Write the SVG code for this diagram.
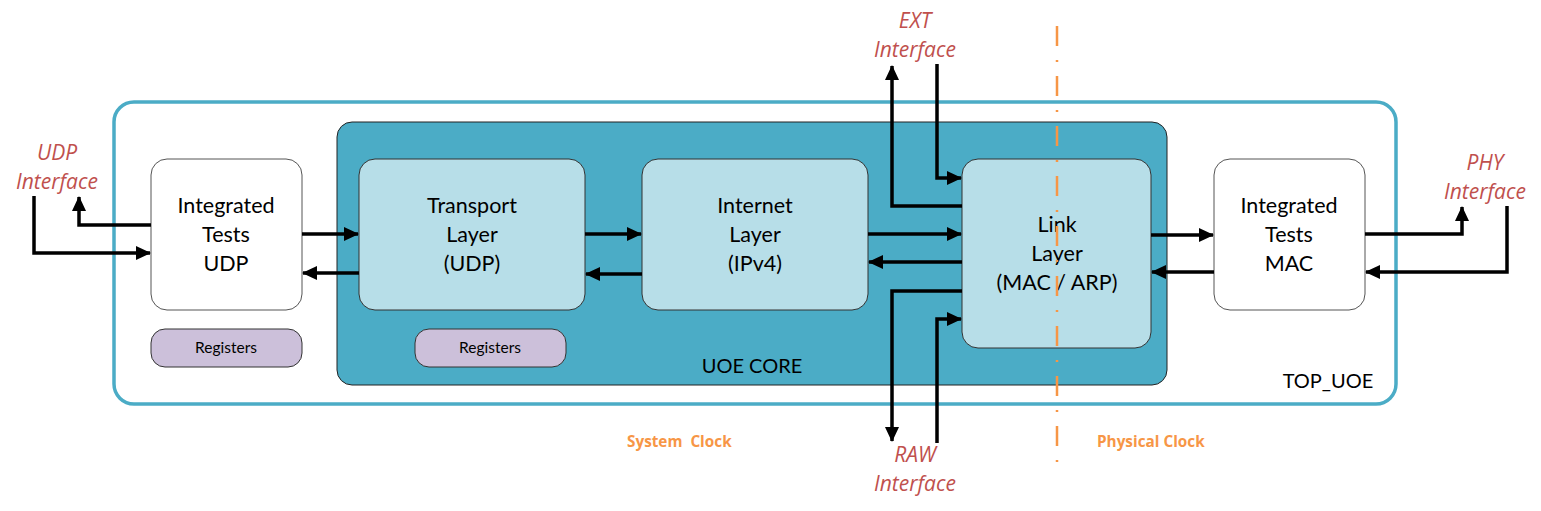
<svg xmlns="http://www.w3.org/2000/svg" width="1541" height="511" viewBox="0 0 1541 511">
<style>
.lbl{font-family:Lato,"Liberation Sans",sans-serif;font-size:21.5px;fill:#000;text-anchor:middle}
.big{font-family:Lato,"Liberation Sans",sans-serif;font-size:20px;fill:#000;text-anchor:middle}
.iface{font-family:"Open Sans","Liberation Sans",sans-serif;font-style:italic;font-size:21px;fill:#C0504D;text-anchor:middle}
.clk{font-family:"Open Sans","Liberation Sans",sans-serif;font-weight:bold;font-size:15.3px;fill:#F79646;white-space:pre}
.reg{font-family:Lato,"Liberation Sans",sans-serif;font-size:15.5px;fill:#000;text-anchor:middle}
.layer{fill:#B7DEE8;stroke:#333;stroke-width:1}
.test{fill:#fff;stroke:#555;stroke-width:1}
.regbox{fill:#CCC0DA;stroke:#333;stroke-width:1}
.conn{fill:none;stroke:#000;stroke-width:3.5;stroke-linejoin:miter}
</style>
<defs>
<marker id="ah" markerUnits="userSpaceOnUse" markerWidth="16" markerHeight="14" refX="14" refY="7" orient="auto">
<path d="M0,0 L15,7 L0,14 z" fill="#000"/>
</marker>
</defs>
<rect width="1541" height="511" fill="#fff"/>
<g id="top_uoe">
<rect x="114" y="102" width="1282" height="302" rx="20" fill="#fff" stroke="#4BACC6" stroke-width="3.5"/>
<text class="big" x="1328" y="388">TOP_UOE</text>
</g>
<g id="uoe_core">
<rect x="337" y="122" width="830" height="263" rx="15" fill="#4BACC6" stroke="#222" stroke-width="1"/>
<text class="big" x="752" y="373">UOE CORE</text>
</g>
<g id="tests_udp">
<rect class="test" x="151" y="159" width="151" height="151" rx="16"/>
<text class="lbl" x="226" y="213">Integrated</text>
<text class="lbl" x="226" y="242">Tests</text>
<text class="lbl" x="226" y="271">UDP</text>
</g>
<g id="transport">
<rect class="layer" x="359" y="159" width="226" height="151" rx="16"/>
<text class="lbl" x="472" y="213">Transport</text>
<text class="lbl" x="472" y="242">Layer</text>
<text class="lbl" x="472" y="271">(UDP)</text>
</g>
<g id="internet">
<rect class="layer" x="642" y="159" width="226" height="151" rx="16"/>
<text class="lbl" x="755" y="213">Internet</text>
<text class="lbl" x="755" y="242">Layer</text>
<text class="lbl" x="755" y="271">(IPv4)</text>
</g>
<g id="link">
<rect class="layer" x="962" y="159" width="189" height="189" rx="16"/>
<text class="lbl" x="1057" y="232">Link</text>
<text class="lbl" x="1057" y="261">Layer</text>
<text class="lbl" x="1057" y="290">(MAC / ARP)</text>
</g>
<g id="tests_mac">
<rect class="test" x="1214" y="159" width="151" height="151" rx="16"/>
<text class="lbl" x="1289" y="213">Integrated</text>
<text class="lbl" x="1289" y="242">Tests</text>
<text class="lbl" x="1289" y="271">MAC</text>
</g>
<g id="reg1">
<rect class="regbox" x="151" y="329" width="151" height="38" rx="14"/>
<text class="reg" x="226" y="353">Registers</text>
</g>
<g id="reg2">
<rect class="regbox" x="415" y="329" width="151" height="38" rx="14"/>
<text class="reg" x="490" y="353">Registers</text>
</g>
<g id="clock_line">
<line x1="1057" y1="26" x2="1057" y2="472" stroke="#F79646" stroke-width="2.5" stroke-dasharray="20,14,2,14"/>
</g>
<g id="labels">
<text class="iface" x="915" y="28">EXT</text>
<text class="iface" x="915" y="57">Interface</text>
<text class="iface" x="57" y="160">UDP</text>
<text class="iface" x="57" y="189">Interface</text>
<text class="iface" x="1485" y="170">PHY</text>
<text class="iface" x="1485" y="199">Interface</text>
<text class="iface" x="915" y="462">RAW</text>
<text class="iface" x="915" y="491">Interface</text>
<text class="clk" x="627" y="447" xml:space="preserve">System  Clock</text>
<text class="clk" x="1097" y="447">Physical Clock</text>
</g>
<g id="connectors">
<path class="conn" d="M34,196 V253 H150" marker-end="url(#ah)"/>
<path class="conn" d="M151,225 H79 V197" marker-end="url(#ah)"/>
<path class="conn" d="M302,234 H358" marker-end="url(#ah)"/>
<path class="conn" d="M359,273 H303" marker-end="url(#ah)"/>
<path class="conn" d="M585,234 H641" marker-end="url(#ah)"/>
<path class="conn" d="M642,274 H586" marker-end="url(#ah)"/>
<path class="conn" d="M868,234 H961" marker-end="url(#ah)"/>
<path class="conn" d="M962,262 H869" marker-end="url(#ah)"/>
<path class="conn" d="M937,64 V178 H961" marker-end="url(#ah)"/>
<path class="conn" d="M962,206 H892 V66" marker-end="url(#ah)"/>
<path class="conn" d="M962,291 H892 V441" marker-end="url(#ah)"/>
<path class="conn" d="M937,443 V319 H961" marker-end="url(#ah)"/>
<path class="conn" d="M1151,235 H1213" marker-end="url(#ah)"/>
<path class="conn" d="M1214,272 H1152" marker-end="url(#ah)"/>
<path class="conn" d="M1365,234 H1462 V207" marker-end="url(#ah)"/>
<path class="conn" d="M1507,206 V272 H1366" marker-end="url(#ah)"/>
</g>
</svg>
